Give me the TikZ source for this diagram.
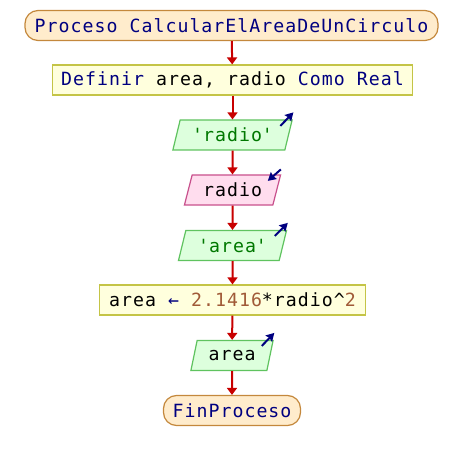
\documentclass[tikz,border=0pt]{standalone}
\usepackage{fontspec}
\newfontfamily\mono[LetterSpace=5.7]{DejaVu Sans Mono}
\usetikzlibrary{shapes.geometric,arrows.meta}
\definecolor{kw}{RGB}{0,0,128}
\definecolor{strc}{RGB}{0,120,0}
\definecolor{numc}{RGB}{160,90,55}
\definecolor{termfill}{RGB}{255,236,204}
\definecolor{termdraw}{RGB}{196,136,60}
\definecolor{procfill}{RGB}{255,255,221}
\definecolor{procdraw}{RGB}{196,196,70}
\definecolor{outfill}{RGB}{221,255,221}
\definecolor{outdraw}{RGB}{95,195,95}
\definecolor{infill}{RGB}{255,221,238}
\definecolor{indraw}{RGB}{200,80,140}
\definecolor{flowc}{RGB}{200,0,0}
\tikzset{
  every node/.style={font=\mono\fontsize{18.2}{22}\selectfont, inner sep=0pt, minimum height=30pt},
  term/.style={draw=termdraw, fill=termfill, line width=1.2pt, rounded corners=13pt},
  proc/.style={draw=procdraw, fill=procfill, line width=1.2pt},
  para/.style={trapezium, trapezium left angle=68.2, trapezium right angle=111.8, trapezium stretches=true, line width=1.2pt},
  outbox/.style={para, draw=outdraw, fill=outfill},
  inbox/.style={para, draw=indraw, fill=infill},
  flow/.style={draw=flowc, line width=2pt, -{Triangle[length=7pt,width=10pt]}},
  iomark/.style={draw=kw, line width=2pt, -{Stealth[length=8pt,width=9pt,inset=1pt]}}
}
\begin{document}
\begin{tikzpicture}[x=1pt,y=-1pt]
\useasboundingbox (0,0) rectangle (464,460);
\node[term, minimum width=413pt] (p) at (231.5,25.5) {\textcolor{kw}{Proceso CalcularElAreaDeUnCirculo}};
\node[proc, minimum width=360pt] (d) at (232.5,80) {\textcolor{kw}{Definir} area, radio \textcolor{kw}{Como Real}};
\node[outbox, minimum width=120pt] (o1) at (232.5,135) {\textcolor{strc}{\textquotesingle radio\textquotesingle}};
\node[inbox, minimum width=96.5pt] (i1) at (232.5,190) {radio};
\node[outbox, minimum width=108.5pt] (o2) at (232.5,245.5) {\textcolor{strc}{\textquotesingle area\textquotesingle}};
\node[proc, minimum width=265.5pt] (a) at (232.5,300) {area \textcolor{kw}{←} \textcolor{numc}{2.1416}*radio\textasciicircum\textcolor{numc}{2}};
\node[outbox, minimum width=82.6pt] (o3) at (232,355.5) {area};
\node[term, minimum width=137pt] (f) at (232,410.5) {\textcolor{kw}{FinProceso}};
\draw[flow] (p) -- (d);
\draw[flow] (d) -- (o1);
\draw[flow] (o1) -- (i1);
\draw[flow] (i1) -- (o2);
\draw[flow] (o2) -- (a);
\draw[flow] (a) -- (o3);
\draw[flow] (o3) -- (f);
\draw[iomark] ([xshift=-12.5pt,yshift=-6.5pt]o1.top right corner) -- ([xshift=0.5pt,yshift=7pt]o1.top right corner);
\draw[iomark] ([xshift=-0.5pt,yshift=5pt]i1.top right corner) -- ([xshift=-13.5pt,yshift=-6.5pt]i1.top right corner);
\draw[iomark] ([xshift=-12.5pt,yshift=-6pt]o2.top right corner) -- ([xshift=0.5pt,yshift=7pt]o2.top right corner);
\draw[iomark] ([xshift=-12pt,yshift=-6pt]o3.top right corner) -- ([xshift=0.5pt,yshift=7pt]o3.top right corner);
\end{tikzpicture}
\end{document}
